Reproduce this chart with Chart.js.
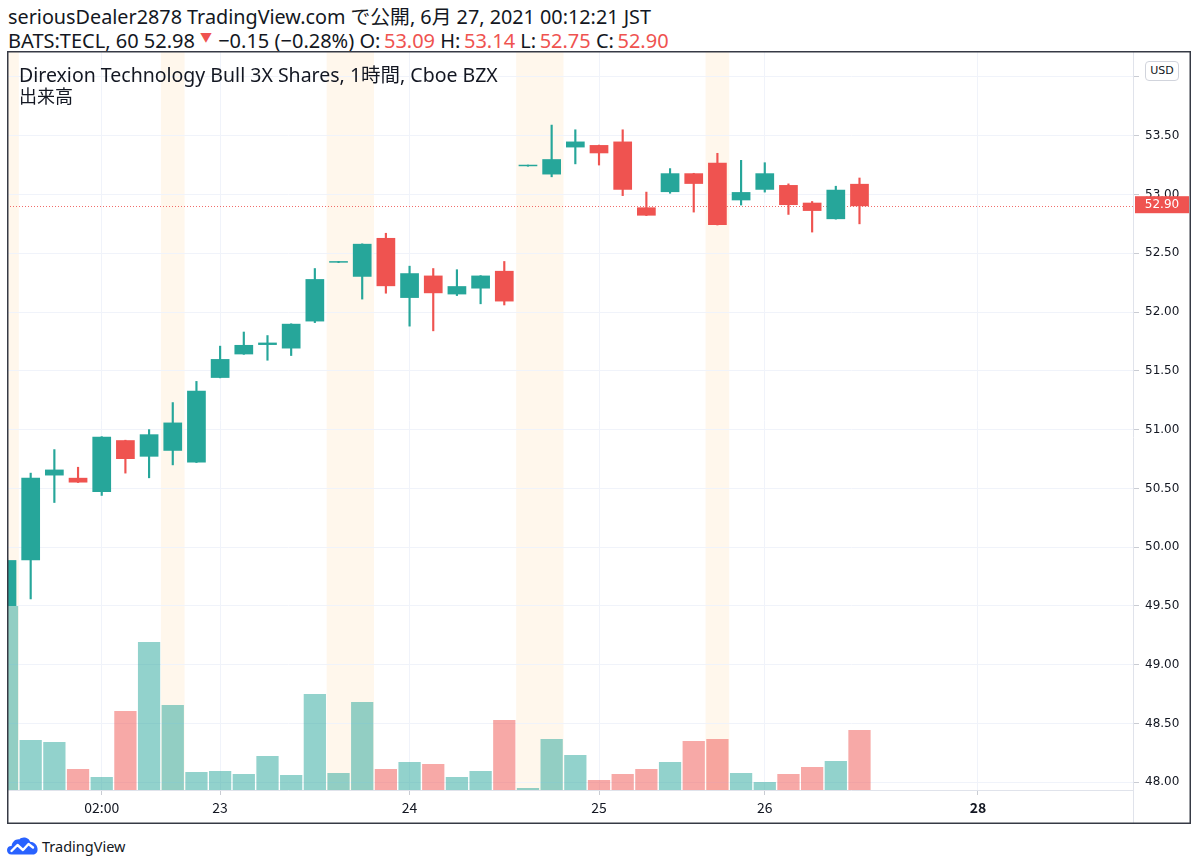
<!DOCTYPE html>
<html>
<head>
<meta charset="utf-8">
<script src="https://cdn.jsdelivr.net/npm/chart.js@4.4.1/dist/chart.umd.min.js"></script>
<style>
  html, body { margin: 0; padding: 0; background: #ffffff; }
  body { width: 1200px; height: 868px; position: relative; overflow: hidden;
         font-family: "Noto Sans", "Noto Sans CJK JP", sans-serif; color: #131722; }
  .hdr { position: absolute; left: 8px; font-size: 20px; line-height: 22px; white-space: nowrap; }
  .red { color: #ef5350; margin-left: 3.5px; }
  .tri { font-size: 12px; vertical-align: 6px; color: #ef5350; margin-left: 5px; margin-right: 1px; }
  #wrap { position: absolute; left: 7px; top: 51px; width: 1184px; height: 773px; }
  #title { position: absolute; left: 19px; top: 64px; font-size: 19.5px; line-height: 22px; white-space: nowrap; pointer-events: none; }
  #vol { position: absolute; left: 19px; top: 86px; font-size: 18px; line-height: 20px; pointer-events: none; }
  #usd { position: absolute; left: 1145px; top: 61px; width: 32px; height: 18px; border: 1px solid #d1d4dc;
         border-radius: 4px; background: #fff; font-family: "DejaVu Sans", sans-serif; font-size: 11px;
         line-height: 18px; text-align: center; color: #131722; }
  #logo { position: absolute; left: 7px; top: 836px; height: 20px; display: flex; align-items: center; }
  #logo span { font-size: 14.5px; margin-left: 4px; color: #131722; }
</style>
</head>
<body>
<div class="hdr" style="top:6px; font-size:19.8px">seriousDealer2878 TradingView.com で公開, 6月 27, 2021 00:12:21 JST</div>
<div class="hdr" style="top:27px">BATS:TECL, 60 52.98<span class="tri">▼</span> −0.15 (−0.28%) O:<span class="red">53.09</span> H:<span class="red">53.14</span> L:<span class="red">52.75</span> C:<span class="red">52.90</span></div>

<div id="wrap"><canvas id="c"></canvas></div>
<div id="title">Direxion Technology Bull 3X Shares, 1時間, Cboe BZX</div>
<div id="vol">出来高</div>
<div id="usd">USD</div>

<div id="logo">
  <svg width="31" height="18" viewBox="0 0 31 18">
    <path d="M4.5,17.5 C1.5,17.5 0,15.5 0,13 C0,10.5 2,8.8 4.6,9 C5,5 8.3,2 12.2,2.4 C14,0.6 16.5,0 19,0.8 C21.2,1.5 22.6,3 23.2,4.8 C27,4.8 30,7.8 30.5,11.5 C31,15 29,17.5 26,17.5 Z" fill="#2962ff"/>
    <polyline points="4.5,14 10.5,8 16,13 21.5,7 26,10.5" fill="none" stroke="#ffffff" stroke-width="2.4" stroke-linejoin="round" stroke-linecap="round"/>
  </svg>
  <span>TradingView</span>
</div>

<script>
// ---- data ----
const OPEN  = [49.50,49.89,50.61,50.59,50.47,50.91,50.77,50.82,50.72,51.44,51.64,51.72,51.69,51.92,52.42,52.30,52.63,52.12,52.31,52.15,52.20,52.35,53.24,53.17,53.40,53.42,53.45,52.89,53.02,53.18,53.27,52.95,53.04,53.08,52.93,52.79,53.09];
const HIGH  = [49.90,50.63,50.83,50.68,50.94,50.91,51.00,51.23,51.41,51.71,51.83,51.80,51.90,52.37,52.43,52.58,52.67,52.39,52.37,52.36,52.31,52.43,53.25,53.59,53.55,53.42,53.55,53.02,53.22,53.18,53.35,53.29,53.27,53.09,52.94,53.07,53.14];
const LOW   = [49.50,49.56,50.38,50.55,50.44,50.63,50.59,50.70,50.72,51.44,51.64,51.59,51.63,51.91,52.42,52.11,52.16,51.88,51.84,52.14,52.07,52.06,53.24,53.15,53.26,53.25,52.99,52.82,53.01,52.85,52.74,52.91,53.02,52.83,52.68,52.79,52.75];
const CLOSE = [49.89,50.59,50.66,50.55,50.94,50.75,50.96,51.06,51.33,51.60,51.72,51.74,51.90,52.28,52.43,52.58,52.22,52.33,52.16,52.22,52.31,52.09,53.25,53.30,53.45,53.35,53.04,52.82,53.18,53.09,52.74,53.02,53.18,52.91,52.86,53.04,52.90];
// volume (thousand shares, estimated)
const VOLUME = [184,50,48,21,13,79,148,85,18,19,16,34,15,96,17,88,21,28,26,13,19,70,2,51,35,10,16,21,28,49,51,17,8,16,23,29,60];
const VOLUME_AXIS_MAX = 739;
// extended-hours sessions (bar index ranges)
const EXT_SESSIONS = [[0,0],[7,7],[14,15],[22,23],[30,30]];
// time axis
const TIME_TICK_POS = [4, 9, 17, 25, 32, 41];
const TIME_TICK_LABELS = ['02:00', '23', '24', '25', '26', '28'];
const BOLD_TICK = '28';
const X_MIN = 0, X_MAX = 47.55;
// price axis
const PRICE_TICKS = [48.0, 48.5, 49.0, 49.5, 50.0, 50.5, 51.0, 51.5, 52.0, 52.5, 53.0, 53.5, 54.0];
const HIDDEN_PRICE_TICK = 54.0;
const Y_MIN = 47.935, Y_MAX = 54.22;
const LAST_CLOSE = 52.90;

const UP = '#26a69a', DOWN = '#ef5350';
const UP_VOL = 'rgba(38,166,154,0.5)', DOWN_VOL = 'rgba(239,83,80,0.5)';
const isUp = i => CLOSE[i] >= OPEN[i];
const idx = OPEN.map((_, i) => i);

const shadePlugin = {
  id: 'shade',
  beforeDraw(chart) {
    const {ctx, chartArea: a, scales: {x}} = chart;
    ctx.save();
    ctx.beginPath(); ctx.rect(a.left, a.top, a.right - a.left, a.bottom - a.top); ctx.clip();
    ctx.fillStyle = 'rgba(255,152,0,0.075)';
    EXT_SESSIONS.forEach(([s, e]) => {
      const x0 = x.getPixelForValue(s - 0.5), x1 = x.getPixelForValue(e + 0.5);
      ctx.fillRect(x0, a.top, x1 - x0, a.bottom - a.top);
    });
    ctx.restore();
  },
  beforeDatasetsDraw(chart) {
    const {ctx, chartArea: a, scales: {y}} = chart;
    const py = Math.round(y.getPixelForValue(LAST_CLOSE)) + 0.5;
    ctx.save();
    ctx.strokeStyle = 'rgba(239,83,80,0.85)';
    ctx.lineWidth = 1;
    ctx.setLineDash([1, 2]);
    ctx.beginPath(); ctx.moveTo(a.left, py); ctx.lineTo(a.right, py); ctx.stroke();
    ctx.restore();
  },
  afterDraw(chart) {
    const {ctx, chartArea: a, scales: {y}, width, height} = chart;
    ctx.save();
    ctx.strokeStyle = '#e0e3eb'; ctx.lineWidth = 1;
    ctx.beginPath();
    ctx.moveTo(Math.round(a.right) + 0.5, 0); ctx.lineTo(Math.round(a.right) + 0.5, height);
    ctx.moveTo(0, Math.round(a.bottom) + 0.5); ctx.lineTo(a.right, Math.round(a.bottom) + 0.5);
    ctx.stroke();
    // last price label
    const py = y.getPixelForValue(LAST_CLOSE);
    ctx.fillStyle = DOWN;
    ctx.fillRect(a.right + 2, py - 10, 54, 17);
    ctx.fillStyle = '#ffffff';
    ctx.font = '12px "DejaVu Sans"';
    ctx.textAlign = 'center'; ctx.textBaseline = 'middle';
    ctx.fillText(LAST_CLOSE.toFixed(2), a.right + 29, py - 1);
    // frame
    ctx.strokeStyle = '#363a45'; ctx.lineWidth = 1.5;
    ctx.strokeRect(0.75, 0.75, width - 1.5, height - 1.5);
    ctx.restore();
  }
};

new Chart(document.getElementById('c'), {
  type: 'bar',
  data: {
    datasets: [
      {
        label: 'volume', yAxisID: 'yv', order: 3, grouped: false,
        data: idx.map(i => ({x: i, y: VOLUME[i]})),
        backgroundColor: idx.map(i => isUp(i) ? UP_VOL : DOWN_VOL),
        barPercentage: 0.94, categoryPercentage: 1, borderWidth: 0
      },
      {
        label: 'wick', yAxisID: 'y', order: 2, grouped: false,
        data: idx.map(i => ({x: i, y: [LOW[i], HIGH[i]]})),
        backgroundColor: idx.map(i => isUp(i) ? UP : DOWN),
        barThickness: 1.5, borderWidth: 0
      },
      {
        label: 'body', yAxisID: 'y', order: 1, grouped: false,
        data: idx.map(i => ({x: i, y: [OPEN[i], CLOSE[i]]})),
        backgroundColor: idx.map(i => isUp(i) ? UP : DOWN),
        barPercentage: 0.79, categoryPercentage: 1, borderWidth: 0, minBarLength: 1.5
      }
    ]
  },
  options: {
    responsive: true, maintainAspectRatio: false, animation: false,
    layout: { padding: 0 },
    plugins: { legend: { display: false }, tooltip: { enabled: false }, title: { display: false } },
    scales: {
      x: {
        type: 'linear', min: X_MIN, max: X_MAX, offset: false,
        grid: { color: '#f0f3fa', offset: false, tickLength: 5, tickColor: '#c9ccd3' },
        border: { display: false },
        afterBuildTicks: s => { s.ticks = TIME_TICK_POS.map(v => ({value: v})); },
        afterFit: s => { s.height = 34; s.paddingLeft = 0; s.paddingRight = 0; },
        ticks: {
          autoSkip: false, maxRotation: 0, padding: 4, color: '#131722',
          font: c => ({ family: '"Noto Sans CJK JP"', size: 14,
                        weight: (c.tick && TIME_TICK_LABELS[TIME_TICK_POS.indexOf(c.tick.value)] === BOLD_TICK) ? 'bold' : 'normal' }),
          callback: v => TIME_TICK_LABELS[TIME_TICK_POS.indexOf(v)]
        }
      },
      y: {
        type: 'linear', position: 'right', min: Y_MIN, max: Y_MAX,
        grid: { color: '#f0f3fa', tickLength: 6, tickColor: '#c9ccd3' },
        border: { display: false },
        afterBuildTicks: s => { s.ticks = PRICE_TICKS.map(v => ({value: v})); },
        afterFit: s => { s.width = 58; s.paddingTop = 0; s.paddingBottom = 0; },
        ticks: {
          padding: 6, color: '#131722', font: { family: '"DejaVu Sans"', size: 12 },
          callback: v => v === HIDDEN_PRICE_TICK ? '' : v.toFixed(2)
        }
      },
      yv: { display: false, min: 0, max: VOLUME_AXIS_MAX }
    }
  },
  plugins: [shadePlugin]
});
</script>
</body>
</html>
